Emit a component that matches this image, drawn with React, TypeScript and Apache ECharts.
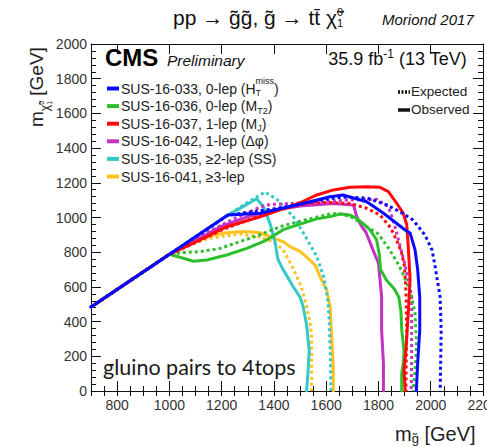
import React, { useEffect, useRef } from "react";
import * as echarts from "echarts";

const FONT = "'Liberation Sans', Arial, Helvetica, sans-serif";
const W = 487;
const H = 447;

// ---- data: [m_gluino, m_neutralino] in GeV ----
const blueObs = [[700,484],[1224,1014],[1347,1024],[1487,1072],[1615,1120],[1664,1130],[1755,1091],[1818,1026],[1902,928],[1921,911],[1940,813],[1950,700],[1958,540],[1958,350],[1950,160],[1945,0]];
const blueExp = [[700,484],[1222,1012],[1300,1030],[1400,1050],[1500,1075],[1576,1101],[1664,1118],[1756,1112],[1833,1072],[1883,1032],[1932,986],[1978,899],[2005,813],[2017,715],[2036,542],[2040,352],[2038,161],[2036,0]];
const redObs = [[700,484],[1000,788],[1104,861],[1219,947],[1347,1004],[1500,1085],[1564,1130],[1627,1159],[1691,1174],[1755,1177],[1806,1174],[1838,1149],[1870,1082],[1895,1024],[1908,960],[1914,832],[1921,640],[1914,450],[1906,254],[1898,121],[1902,0]];
const redExp = [[700,484],[1000,788],[1100,855],[1200,928],[1300,985],[1400,1035],[1519,1081],[1602,1087],[1691,1081],[1755,1053],[1806,1014],[1847,940],[1872,860],[1889,794],[1900,716],[1906,544],[1908,352],[1906,161],[1905,0]];
const magObs = [[700,484],[1000,788],[1100,868],[1200,950],[1300,1005],[1400,1042],[1500,1066],[1627,1081],[1704,1072],[1717,1005],[1735,950],[1752,915],[1774,832],[1800,736],[1812,544],[1812,352],[1819,160],[1819,0]];
const magExp = [[700,484],[1000,788],[1100,878],[1175,938],[1251,995],[1347,1060],[1385,1075],[1500,1083],[1600,1093],[1691,1101],[1793,1105],[1838,1062],[1851,1005],[1863,947],[1883,832],[1900,736],[1920,600],[1927,544],[1927,352],[1927,161],[1925,0]];
const greenObs = [[700,484],[1000,788],[1053,765],[1092,748],[1143,755],[1219,784],[1296,822],[1372,870],[1436,930],[1500,962],[1564,992],[1615,1005],[1653,1020],[1691,1014],[1717,995],[1745,960],[1768,928],[1793,870],[1803,790],[1808,700],[1830,640],[1860,590],[1878,540],[1886,460],[1889,352],[1898,230],[1895,160],[1889,100],[1889,0]];
const greenExp = [[700,484],[1000,788],[1041,797],[1117,803],[1194,822],[1270,861],[1340,897],[1430,950],[1530,990],[1620,1022],[1660,1020],[1700,1000],[1755,947],[1800,905],[1840,820],[1880,720],[1910,620],[1927,544],[1940,448],[1946,255],[1940,121],[1933,0]];
const cyanObs = [[700,484],[1224,1014],[1290,1070],[1334,1108],[1360,1062],[1385,966],[1404,860],[1415,760],[1436,697],[1474,601],[1500,540],[1512,486],[1525,380],[1535,236],[1530,100],[1525,0]];
const cyanExp = [[700,484],[1224,1014],[1300,1088],[1366,1147],[1411,1105],[1474,1005],[1525,880],[1564,774],[1590,659],[1605,540],[1612,400],[1615,250],[1617,100],[1618,0]];
const orangeObs = [[700,484],[1000,788],[1053,832],[1110,868],[1168,899],[1219,912],[1270,918],[1308,918],[1347,912],[1385,890],[1436,860],[1462,832],[1500,805],[1538,755],[1560,720],[1576,659],[1602,582],[1615,486],[1621,313],[1627,140],[1627,0]];
const orangeExp = [[700,484],[1000,788],[1050,825],[1100,855],[1150,880],[1270,905],[1340,890],[1398,860],[1436,813],[1474,706],[1506,595],[1525,486],[1538,400],[1544,313],[1544,217],[1544,0]];

const COLORS = {
  blue: "#0a0aff",
  green: "#2cbf2c",
  red: "#ff0a0a",
  magenta: "#c431c4",
  cyan: "#35c8c8",
  orange: "#ffc21f",
};

// legend: label segments (text, size, baseline offset, stacked)
type Seg = { t: string; s: number; dy?: number; stack?: boolean; style?: string; weight?: string };
const legendColors = [COLORS.blue, COLORS.green, COLORS.red, COLORS.magenta, COLORS.cyan, COLORS.orange];
const legendLabels: Seg[][] = [
  [{ t: "SUS-16-033, 0-lep (H", s: 14 }, { t: "miss", s: 9, dy: -9, stack: true }, { t: "T", s: 9, dy: 3 }, { t: ")", s: 14 }],
  [{ t: "SUS-16-036, 0-lep (M", s: 14 }, { t: "T2", s: 9, dy: 3 }, { t: ")", s: 14 }],
  [{ t: "SUS-16-037, 1-lep (M", s: 14 }, { t: "J", s: 9, dy: 3 }, { t: ")", s: 14 }],
  [{ t: "SUS-16-042, 1-lep (Δφ)", s: 14 }],
  [{ t: "SUS-16-035, ≥2-lep (SS)", s: 14 }],
  [{ t: "SUS-16-041, ≥3-lep", s: 14 }],
];

function measure(text: string, size: number, family = FONT, style = "normal", weight = "normal") {
  const ctx = document.createElement("canvas").getContext("2d")!;
  ctx.font = `${style} ${weight} ${size}px ${family}`;
  return ctx.measureText(text).width;
}

function buildText(x0: number, base: number, segs: Seg[], fill: string, family = FONT, align: "left" | "right" = "left") {
  const widths = segs.map((g) => measure(g.t, g.s, family, g.style || "normal", g.weight || "normal"));
  let total = 0;
  let pend = 0;
  segs.forEach((g, i) => {
    if (g.stack) pend = widths[i];
    else {
      total += Math.max(widths[i], pend);
      pend = 0;
    }
  });
  let x = align === "right" ? x0 - total : x0;
  pend = 0;
  const els: any[] = [];
  segs.forEach((g, i) => {
    const font = `${g.style || "normal"} ${g.weight || "normal"} ${g.s}px ${family}`;
    els.push({
      type: "text",
      x,
      y: base + (g.dy || 0) - 0.35 * g.s,
      silent: true,
      style: {
        text: g.t,
        font,
        fill,
        textAlign: "left",
        textVerticalAlign: "middle",
        align: "left",
        verticalAlign: "middle",
      },
    });
    if (g.stack) pend = widths[i];
    else {
      x += Math.max(widths[i], pend);
      pend = 0;
    }
  });
  return els;
}

const DOT = [3, 3];

function lineSeries(name: string, data: number[][], color: string, dotted: boolean) {
  return {
    name,
    type: "line",
    data,
    showSymbol: false,
    symbol: "none",
    clip: true,
    lineStyle: { color, width: 3, type: dotted ? DOT : "solid", join: "round", cap: dotted ? "butt" : "round" },
    emphasis: { disabled: true },
  };
}

export default function App() {
  const ref = useRef<HTMLDivElement>(null);
  useEffect(() => {
    if (!ref.current) return;
    const chart = echarts.init(ref.current, undefined, { renderer: "svg", width: W, height: H });

    const axisLine = { show: true, onZero: false, lineStyle: { color: "#111", width: 1 } };
    const tickStyle = { color: "#111", width: 1 };
    const labelStyle = { fontSize: 14, color: "#333", fontFamily: FONT };

    const graphics: any[] = [];
    // title
    graphics.push(
      ...buildText(173, 25, [
        { t: "pp → g̃g̃, g̃ → tt̄ χ̃", s: 21 },
        { t: "0", s: 11, dy: -9, stack: true },
        { t: "1", s: 11, dy: 2 },
      ], "#111")
    );
    graphics.push(...buildText(382, 25, [{ t: "Moriond 2017", s: 15, style: "italic" }], "#111"));
    // CMS Preliminary
    graphics.push(...buildText(105, 66, [{ t: "CMS", s: 24, weight: "bold" }], "#000"));
    graphics.push(...buildText(167, 66, [{ t: "Preliminary", s: 15.5, style: "italic" }], "#111"));
    // lumi
    graphics.push(
      ...buildText(467, 65, [
        { t: "35.9 fb", s: 18 },
        { t: "-1", s: 12, dy: -7 },
        { t: " (13 TeV)", s: 18 },
      ], "#111", FONT, "right")
    );
    // legend
    legendLabels.forEach((segs, i) => {
      const yc = 88.5 + 17.6 * i;
      graphics.push({
        type: "line",
        silent: true,
        shape: { x1: 107, y1: yc, x2: 119, y2: yc },
        style: { stroke: legendColors[i], lineWidth: 4 },
      });
      graphics.push(...buildText(121, yc + 4.9, segs, "#222"));
    });
    // expected / observed
    graphics.push({
      type: "line",
      silent: true,
      shape: { x1: 398, y1: 92, x2: 410, y2: 92 },
      style: { stroke: "#111", lineWidth: 3.5, lineDash: [2, 1.5] },
    });
    graphics.push(...buildText(411, 92 + 4.7, [{ t: "Expected", s: 13.5 }], "#222"));
    graphics.push({
      type: "line",
      silent: true,
      shape: { x1: 398, y1: 110, x2: 410, y2: 110 },
      style: { stroke: "#111", lineWidth: 3.5 },
    });
    graphics.push(...buildText(411, 110 + 4.7, [{ t: "Observed", s: 13.5 }], "#222"));
    // annotation
    graphics.push(...buildText(103, 375, [{ t: "gluino pairs to 4tops", s: 21.5 }], "#1a1a1a", "Lato, 'Open Sans', sans-serif"));
    // x axis title
    graphics.push(
      ...buildText(395, 441, [
        { t: "m", s: 20 },
        { t: "g̃", s: 13, dy: 2 },
        { t: " [GeV]", s: 20 },
      ], "#222")
    );
    // y axis title (rotated)
    graphics.push({
      type: "group",
      x: 43,
      y: 127,
      rotation: Math.PI / 2,
      silent: true,
      children: buildText(0, 0, [
        { t: "m", s: 19 },
        { t: "χ̃", s: 12, dy: 6 },
        { t: "0", s: 7, dy: 1, stack: true },
        { t: "1", s: 7, dy: 9 },
        { t: " [GeV]", s: 19 },
      ], "#222"),
    });

    const xMajor = (pos: string, labels: boolean) => ({
      type: "value",
      min: 700,
      max: 2200,
      splitNumber: 7,
      position: pos,
      axisLine,
      axisTick: { show: true, inside: true, length: 10, lineStyle: tickStyle },
      axisLabel: labels
        ? { show: true, ...labelStyle, margin: 7, hideOverlap: false, formatter: (v: number) => (v % 200 === 0 ? String(v) : "") }
        : { show: false },
      splitLine: { show: false },
    });
    const xMinor = (pos: string) => ({
      type: "value",
      min: 700,
      max: 2200,
      interval: 50,
      position: pos,
      axisLine: { show: false },
      axisTick: { show: true, inside: true, length: 5, lineStyle: tickStyle },
      axisLabel: { show: false },
      splitLine: { show: false },
    });
    const yAx = (pos: string, labels: boolean) => ({
      type: "value",
      min: 0,
      max: 2000,
      interval: 200,
      position: pos,
      axisLine,
      axisTick: { show: true, inside: true, length: 10, lineStyle: tickStyle },
      minorTick: { show: true, splitNumber: 5, length: 5, lineStyle: tickStyle },
      axisLabel: labels ? { show: true, ...labelStyle, margin: 4, formatter: (v: number) => String(v) } : { show: false },
      splitLine: { show: false },
      minorSplitLine: { show: false },
    });

    const option: any = {
      animation: false,
      textStyle: { fontFamily: FONT },
      grid: { left: 91, right: 4, top: 44, bottom: 56, containLabel: false, outerBoundsMode: "none" },
      xAxis: [xMajor("bottom", true), xMinor("bottom"), xMajor("top", false), xMinor("top")],
      yAxis: [yAx("left", true), yAx("right", false)],
      series: [
        lineSeries("SUS-16-041 exp", orangeExp, COLORS.orange, true),
        lineSeries("SUS-16-041 obs", orangeObs, COLORS.orange, false),
        lineSeries("SUS-16-035 exp", cyanExp, COLORS.cyan, true),
        lineSeries("SUS-16-035 obs", cyanObs, COLORS.cyan, false),
        lineSeries("SUS-16-042 exp", magExp, COLORS.magenta, true),
        lineSeries("SUS-16-042 obs", magObs, COLORS.magenta, false),
        lineSeries("SUS-16-036 exp", greenExp, COLORS.green, true),
        lineSeries("SUS-16-036 obs", greenObs, COLORS.green, false),
        lineSeries("SUS-16-037 exp", redExp, COLORS.red, true),
        lineSeries("SUS-16-037 obs", redObs, COLORS.red, false),
        lineSeries("SUS-16-033 exp", blueExp, COLORS.blue, true),
        lineSeries("SUS-16-033 obs", blueObs, COLORS.blue, false),
      ],
      graphic: graphics,
    };
    chart.setOption(option);
    return () => chart.dispose();
  }, []);

  return (
    <div
      ref={ref}
      style={{ position: "absolute", left: 0, top: 0, width: W, height: H, background: "#fff" }}
    />
  );
}
